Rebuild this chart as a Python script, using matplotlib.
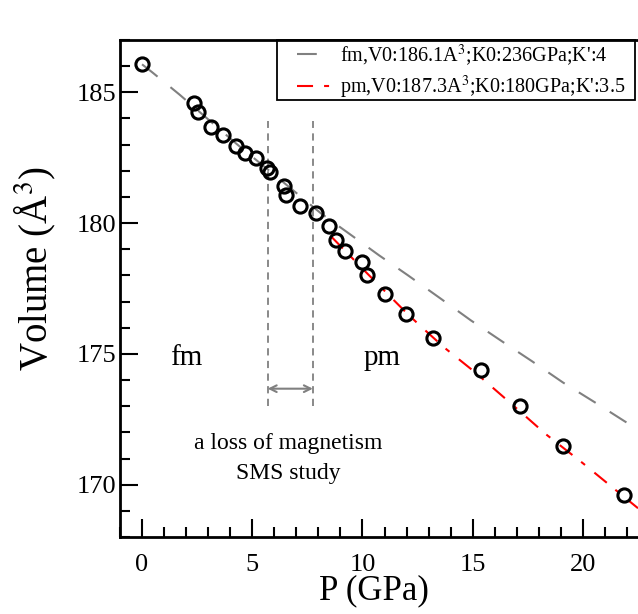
import matplotlib
matplotlib.use("Agg")
import matplotlib.pyplot as plt
from matplotlib.patches import Rectangle

plt.rcParams["font.family"] = ["Liberation Serif", "DejaVu Serif"]
plt.rcParams["mathtext.fontset"] = "stix"

# measured points (P in GPa, V in A^3)
p_data = [0.0, 2.37, 2.54, 3.14, 3.67, 4.26, 4.69, 5.19, 5.66, 5.81, 6.43, 6.53,
          7.16, 7.88, 8.49, 8.82, 9.20, 9.96, 10.21, 11.04, 11.97, 13.22, 15.36,
          17.14, 19.08, 21.85]
v_data = [186.08, 184.58, 184.25, 183.69, 183.36, 182.94, 182.69, 182.49, 182.11,
          181.94, 181.43, 181.09, 180.65, 180.37, 179.90, 179.36, 178.95, 178.51,
          178.00, 177.30, 176.53, 175.62, 174.37, 172.99, 171.46, 169.62]

# fit curves
p_fm = [0.0, 0.47, 1.69, 4.3, 6.86, 8.12, 9.44, 10.75, 12.07, 13.52, 14.92, 16.33,
        17.69, 19.09, 20.54, 21.90, 22.5]
v_fm = [186.07, 185.76, 184.92, 183.02, 181.25, 180.37, 179.57, 178.77, 178.00,
        177.13, 176.28, 175.48, 174.72, 173.91, 173.15, 172.42, 172.12]

p_pm = [8.6, 10.21, 11.97, 12.61, 13.70, 15.06, 16.73, 18.32, 20.00, 21.67, 22.5]
v_pm = [179.47, 178.08, 176.59, 176.08, 175.25, 174.33, 173.11, 171.93, 170.82,
        169.67, 169.10]

label_fm = "fm,V0:186.1A$^3$;K0:236GPa;K':4"
label_pm = "pm,V0:187.3A$^3$;K0:180GPa;K':3.5"

# transition region
p_lo, p_hi = 5.7, 7.75

fig = plt.figure(figsize=(6.38, 6.14), dpi=100)
ax = fig.add_axes([120/638, 1 - 537/614, 518/638, 497/614])

ax.plot(p_fm, v_fm, color="#808080", lw=1.5, dashes=(9.5, 8), label=label_fm)
ax.plot(p_pm, v_pm, color="red", lw=1.5, dashes=(7.7, 5.3, 2.4, 5.8), label=label_pm)
ax.plot(p_data, v_data, "o", mfc="none", mec="black", ms=9.5, mew=2.2, zorder=3)

for p in (p_lo, p_hi):
    ax.plot([p, p], [173.0, 183.9], color="#808080", lw=1.3, dashes=(4, 3))
ax.annotate("", xy=(p_lo, 173.67), xytext=(p_hi, 173.67),
            arrowprops=dict(arrowstyle="<->", color="#808080", lw=1.5,
                            shrinkA=0, shrinkB=0, mutation_scale=12))

ax.text(2.0, 174.83, "fm", fontsize=21, ha="center", va="center")
ax.text(10.9, 174.83, "pm", fontsize=21, ha="center", va="center")
ax.text(6.64, 171.0, "a loss of magnetism\nSMS study", fontsize=17,
        ha="center", va="center", linespacing=1.6)

ax.set_xlim(-1, 22.5)
ax.set_ylim(168, 187)
ax.set_xticks([0, 5, 10, 15, 20])
ax.set_xticks(range(-1, 23), minor=True)
ax.set_yticks([170, 175, 180, 185])
ax.set_yticks(range(168, 188), minor=True)
ax.tick_params(which="both", direction="in", width=1.5, labelsize=19,
               top=False, right=False)
ax.tick_params(which="major", length=13)
ax.tick_params(which="minor", length=7.5)
ax.tick_params(axis="x", pad=12)
ax.tick_params(axis="y", pad=3)

for s in ("left", "bottom", "top"):
    ax.spines[s].set_linewidth(2)
ax.spines["right"].set_visible(False)

ax.set_xlabel("P (GPa)", fontsize=25)
ax.set_ylabel("Volume (Å$^3$)", fontsize=28)
ax.xaxis.set_label_coords(0.49, -0.075)
ax.yaxis.set_label_coords(-0.12, 0.54)

# legend without its own frame, box drawn separately to get the wide left margin
leg = ax.legend(loc="upper left", bbox_to_anchor=(0.342, 0.996), fontsize=14.5,
                handlelength=1.74, frameon=False, borderaxespad=0, borderpad=0,
                labelspacing=0.3, handletextpad=0.4)
ax.add_patch(Rectangle((0.303, 0.879), 0.691, 0.121, transform=ax.transAxes,
                       fill=False, edgecolor="black", lw=1.3, clip_on=False,
                       zorder=4))

fig.savefig("out.png", dpi=100)
